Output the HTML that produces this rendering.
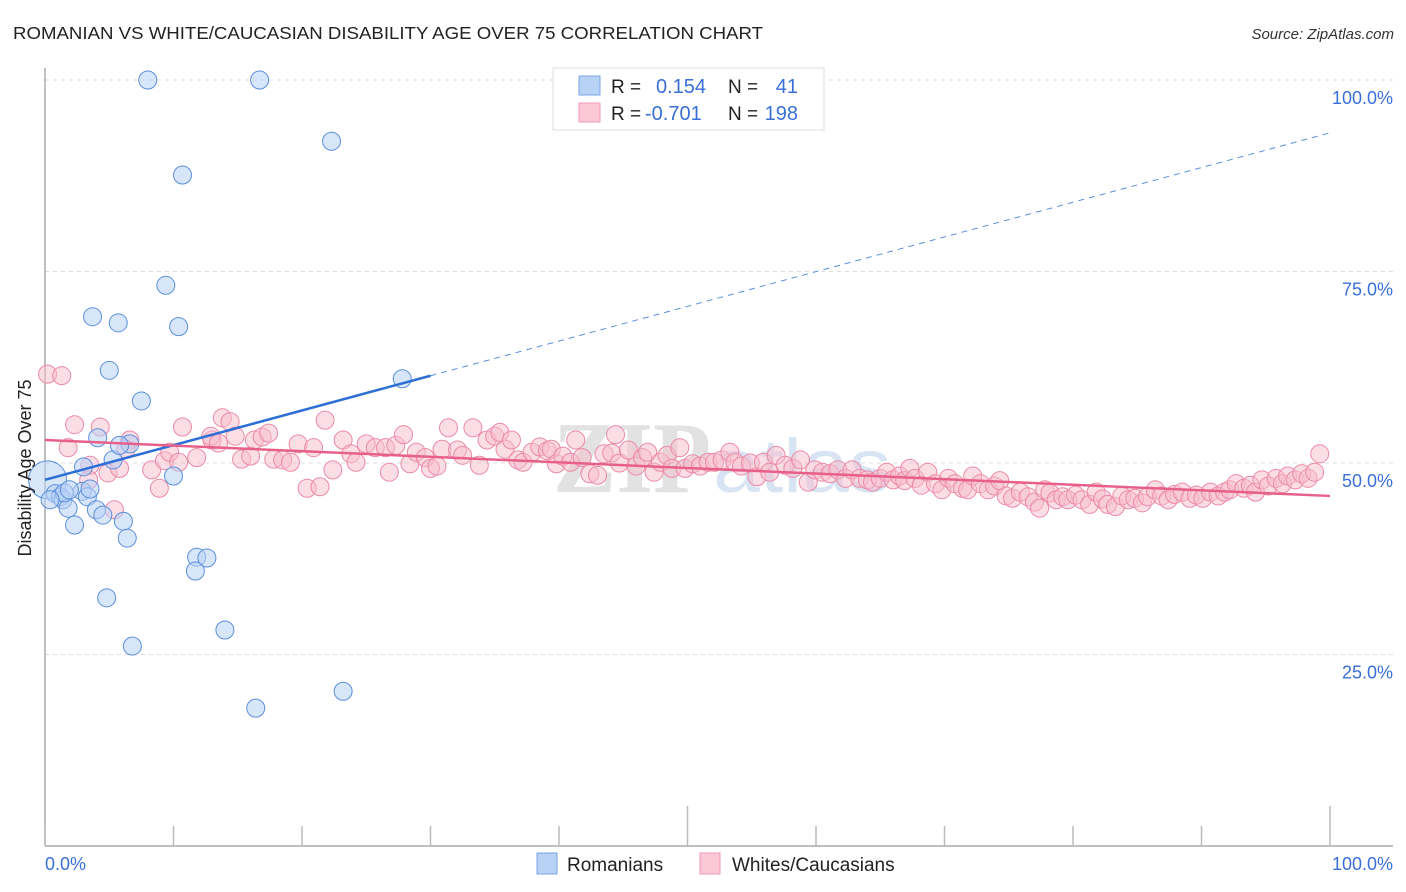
<!DOCTYPE html>
<html><head><meta charset="utf-8"><style>
html,body{margin:0;padding:0;background:#fff;}
svg{display:block;font-family:"Liberation Sans",sans-serif;}
</style></head><body>
<svg id="chart" width="1406" height="892" viewBox="0 0 1406 892">
<text x="13" y="39" font-size="17.5" fill="#222" textLength="750" lengthAdjust="spacingAndGlyphs">ROMANIAN VS WHITE/CAUCASIAN DISABILITY AGE OVER 75 CORRELATION CHART</text>
<text x="1394" y="39" font-size="15" fill="#333" font-style="italic" text-anchor="end">Source: ZipAtlas.com</text>
<g>
<text x="553" y="492" font-family="Liberation Serif,serif" font-size="102" font-weight="bold" fill="#d6d6d6" fill-opacity="0.7" textLength="158" lengthAdjust="spacingAndGlyphs">ZIP</text>
<text x="713" y="492" font-size="76" fill="#c8d8f0" fill-opacity="0.7" textLength="178" lengthAdjust="spacingAndGlyphs">atlas</text>
</g>
<g id="grid"></g>
<g id="axes"></g>
<g id="pink"></g>
<g id="blue"></g>
<g id="trends"></g>
<g>
<rect x="553" y="68" width="271" height="62" fill="#fff" stroke="#ddd"/>
<rect x="579" y="76" width="21" height="19" fill="#b8d2f5" stroke="#7aa6e6"/>
<rect x="579" y="103" width="21" height="19" fill="#fcc8d8" stroke="#ee9ab5"/>
<text x="611" y="93" font-size="19" fill="#222">R =</text>
<text x="656" y="93" font-size="20" fill="#3a6fd8">0.154</text>
<text x="728" y="93" font-size="19" fill="#222">N =</text>
<text x="798" y="93" font-size="20" fill="#3a6fd8" text-anchor="end">41</text>
<text x="611" y="120" font-size="19" fill="#222">R =</text>
<text x="645" y="120" font-size="20" fill="#3a6fd8">-0.701</text>
<text x="728" y="120" font-size="19" fill="#222">N =</text>
<text x="798" y="120" font-size="20" fill="#3a6fd8" text-anchor="end">198</text>
</g>
<g>
<rect x="537" y="853" width="20" height="21" fill="#b8d2f5" stroke="#7aa6e6"/>
<text x="567" y="871" font-size="19" fill="#222">Romanians</text>
<rect x="700" y="853" width="20" height="21" fill="#fcc8d8" stroke="#ee9ab5"/>
<text x="732" y="871" font-size="19" fill="#222">Whites/Caucasians</text>
</g>
<text x="18" y="455" font-size="18" fill="#222" text-anchor="middle" transform="rotate(-90 31 455)">Disability Age Over 75</text>
</svg>
<script>
const yTicks=[25,50,75,100];
const yTickLabels=["25.0%","50.0%","75.0%","100.0%"];
const xTicks=[0,10,20,30,40,50,60,70,80,90,100];
const blueX=[8.0,16.7,22.3,10.7,9.4,3.7,5.7,10.4,5.0,7.5,27.8,0.2,0.8,1.2,1.4,1.8,2.3,4.1,6.6,5.3,2.9,3.3,3.5,4.0,4.5,6.1,6.4,10.0,11.8,12.6,11.7,4.8,6.8,14.0,16.4,23.2,3.0,5.8,1.5,0.4,1.9];
const blueY=[100,100,92.0,87.6,73.2,69.1,68.3,67.8,62.1,58.1,61.0,47.8,46.0,45.6,45.2,44.1,41.9,53.3,52.5,50.4,46.3,45.6,46.6,43.9,43.2,42.4,40.2,48.3,37.7,37.6,35.9,32.4,26.1,28.2,18.0,20.2,49.5,52.3,46.1,45.2,46.5];
const pinkX=[0.2,1.3,2.3,4.3,1.8,3.5,4.9,5.8,5.4,3.4,6.6,6.3,8.3,8.9,9.3,9.7,10.7,10.4,11.8,13.0,12.9,13.5,13.8,14.4,14.8,15.3,16.0,16.3,16.9,17.4,17.8,18.5,19.1,19.7,20.4,21.4,20.9,21.8,22.4,23.2,23.8,24.2,25.0,25.7,26.5,26.8,27.3,27.9,28.4,28.9,29.6,30.0,30.5,30.9,31.4,32.1,32.5,33.3,33.8,34.4,35.0,35.4,35.8,36.3,36.8,37.2,37.9,38.5,39.1,39.4,39.8,40.3,40.9,41.3,41.8,42.4,43.0,43.5,44.1,44.4,44.7,45.4,46.0,46.5,46.9,47.4,47.9,48.4,48.8,49.4,49.8,50.4,51.0,51.6,52.1,52.7,53.3,53.7,54.2,54.9,55.4,55.9,56.4,56.9,57.6,58.2,58.8,59.4,59.9,60.5,61.1,61.7,62.3,62.8,63.4,64.0,64.4,65.0,65.5,66.0,66.5,66.9,67.3,67.7,68.2,68.7,69.3,69.8,70.3,70.8,71.4,71.8,72.2,72.8,73.4,73.9,74.3,74.8,75.3,75.9,76.5,77.0,77.4,77.8,78.2,78.7,79.2,79.6,80.2,80.7,81.3,81.8,82.3,82.7,83.3,83.8,84.3,84.8,85.4,85.8,86.4,86.9,87.4,87.9,88.5,89.1,89.6,90.1,90.7,91.3,91.8,92.2,92.7,93.3,93.8,94.2,94.7,95.2,95.8,96.3,96.7,97.3,97.8,98.3,98.8,99.2];
const pinkY=[61.6,61.4,55.0,54.7,52.0,49.7,48.7,49.3,43.9,47.8,53.0,51.8,49.1,46.7,50.3,51.4,54.7,50.1,50.7,53.0,53.5,52.6,55.9,55.4,53.5,50.5,50.9,53.0,53.4,53.9,50.5,50.4,50.1,52.5,46.7,46.9,52.0,55.6,49.1,53.0,51.2,50.1,52.5,52.0,52.0,48.8,52.3,53.7,49.9,51.4,50.7,49.3,49.6,51.8,54.6,51.7,51.0,54.6,49.7,53.0,53.5,54.0,51.8,53.0,50.4,50.1,51.4,52.1,51.6,51.8,49.9,50.9,50.1,53.0,50.7,48.6,48.4,51.2,51.3,53.7,50.0,51.7,49.6,50.7,51.4,48.8,50.1,51.0,49.3,52.0,49.3,49.9,49.6,50.1,50.1,50.4,51.4,50.1,49.6,50.0,48.2,50.1,48.8,51.0,49.7,49.3,50.4,47.5,49.1,48.8,48.6,49.1,48.0,49.1,48.0,47.8,47.5,48.0,48.8,47.8,48.3,47.7,49.3,48.0,47.1,48.8,47.3,46.5,48.0,47.3,46.7,46.5,48.3,47.3,46.5,47.0,47.7,45.7,45.4,46.2,45.6,44.9,44.1,46.5,46.1,45.2,45.6,45.2,45.8,45.2,44.6,46.2,45.3,44.6,44.3,45.7,45.2,45.4,44.8,45.6,46.5,45.7,45.2,45.9,46.2,45.4,45.8,45.4,46.2,45.7,46.2,46.5,47.3,46.7,47.1,46.2,47.8,47.0,48.0,47.3,48.3,47.8,48.6,48.0,48.8,51.2];
const blueTrend=[47.8,0.453]; // intercept, slope
const pinkTrend=[53.0,-0.073];

const X0=45,X1=1330,Y0=846,Y100=80;
const sx=v=>X0+(X1-X0)*v/100;
const sy=v=>Y0-(Y0-Y100)*v/100;
const NS="http://www.w3.org/2000/svg";
function mk(tag,attrs,parent){const e=document.createElementNS(NS,tag);for(const k in attrs)e.setAttribute(k,attrs[k]);parent.appendChild(e);return e;}
const grid=document.getElementById('grid'),axes=document.getElementById('axes');
yTicks.forEach((t,i)=>{
  const l=mk('line',{x1:45,x2:1393,y1:sy(t),y2:sy(t),stroke:'#ddd','stroke-dasharray':'4,4'},grid);
  
  
  const tx=mk('text',{x:1393,y:sy(t)+24,'font-size':18,fill:'#3a6fd8','text-anchor':'end'},axes);
  tx.textContent=yTickLabels[i];
  
  
});
let a=mk('line',{x1:45,x2:45,y1:68,y2:846,stroke:'#aaa','stroke-width':1.5},axes);


a=mk('line',{x1:45,x2:1393,y1:846,y2:846,stroke:'#aaa','stroke-width':1.5},axes);


xTicks.forEach(t=>{
  const top=(t===50||t===100)?806:826;
  const l=mk('line',{x1:sx(t),x2:sx(t),y1:top,y2:846,stroke:'#bbb','stroke-width':1.5},axes);
  
  
});
let t0=mk('text',{x:45,y:870,'font-size':18,fill:'#3a6fd8'},axes);t0.textContent='0.0%';


let t1=mk('text',{x:1393,y:870,'font-size':18,fill:'#3a6fd8','text-anchor':'end'},axes);t1.textContent='100.0%';



const pg=document.getElementById('pink');
pinkX.forEach((x,i)=>{
  const c=mk('circle',{cx:sx(x),cy:sy(pinkY[i]),r:9,fill:'#f8bccd','fill-opacity':0.5,stroke:'#eb8aa8','stroke-width':1},pg);
  
  
});
const bg=document.getElementById('blue');
blueX.forEach((x,i)=>{
  const c=mk('circle',{cx:sx(x),cy:sy(blueY[i]),r:(i===11?19:9),fill:'#b8d2f5','fill-opacity':0.55,stroke:'#5b8fdc','stroke-width':1},bg);
  
  
});
const tg=document.getElementById('trends');
const bt=v=>blueTrend[0]+blueTrend[1]*v, pt=v=>pinkTrend[0]+pinkTrend[1]*v;
let l=mk('line',{x1:sx(0),y1:sy(bt(0)),x2:sx(30),y2:sy(bt(30)),stroke:'#2d6fd6','stroke-width':2.5},tg);


l=mk('line',{x1:sx(30),y1:sy(bt(30)),x2:sx(100),y2:sy(bt(100)),stroke:'#5b8fdc','stroke-width':1,'stroke-dasharray':'6,5'},tg);


l=mk('line',{x1:sx(0),y1:sy(pt(0)),x2:sx(100),y2:sy(pt(100)),stroke:'#e8608a','stroke-width':2.5},tg);


</script>
</body></html>
